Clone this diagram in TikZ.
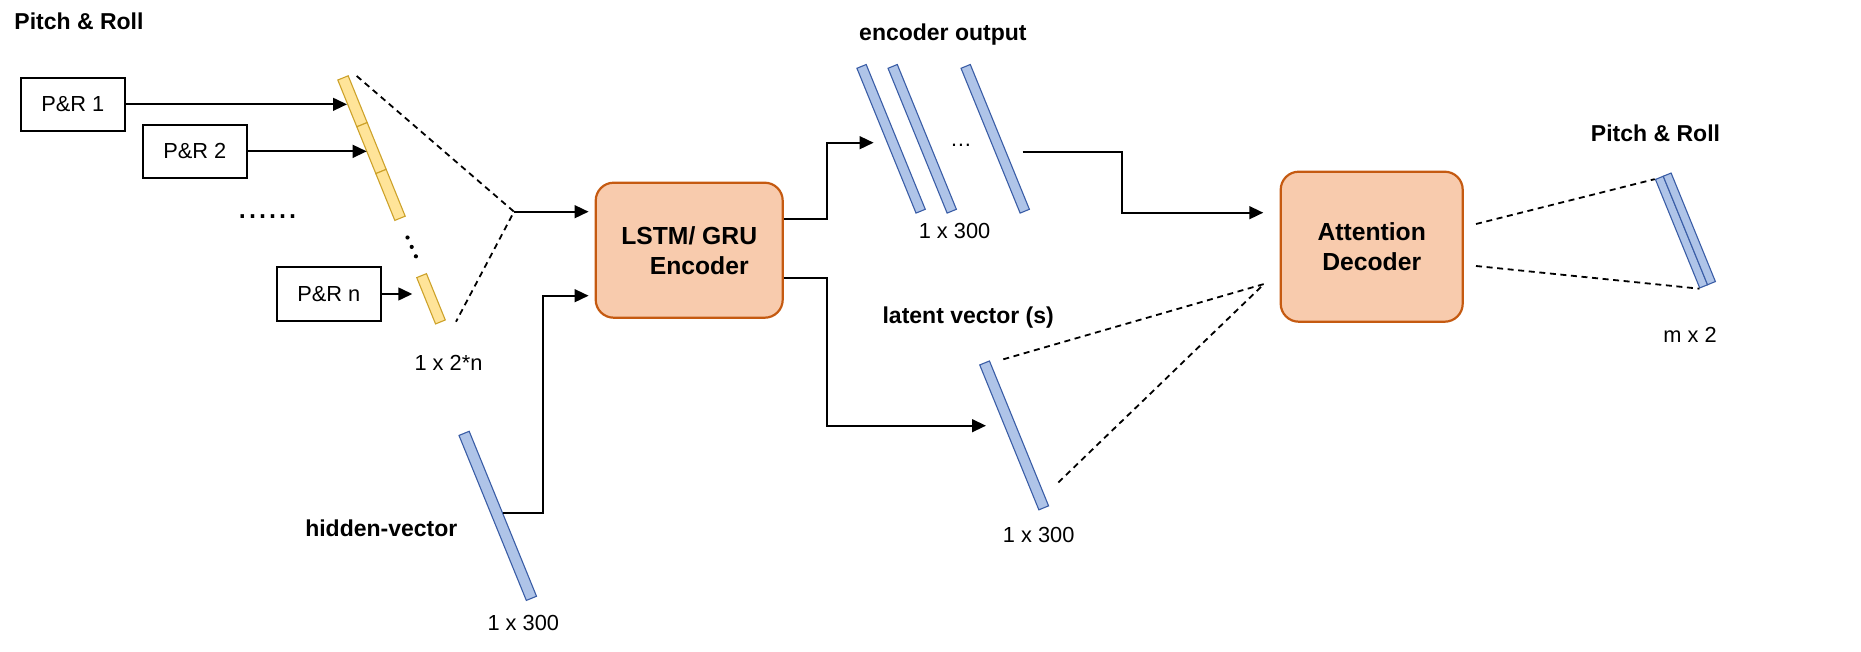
\documentclass[tikz,border=0pt]{standalone}
\usepackage{fontspec}
\setmainfont{Liberation Sans}
\usetikzlibrary{arrows.meta}
\definecolor{corefill}{HTML}{F8CBAD}
\definecolor{coredraw}{HTML}{C55A11}
\definecolor{barfill}{HTML}{AFC4E8}
\definecolor{bardraw}{HTML}{3A5DA6}
\definecolor{yfill}{HTML}{FFE499}
\definecolor{ydraw}{HTML}{CDA22A}
\begin{document}
\begin{tikzpicture}[x=0.5pt,y=-0.5pt,
  lbl/.style={inner sep=0pt,font=\fontsize{10.9}{13}\selectfont},
  blbl/.style={inner sep=0pt,font=\bfseries\fontsize{11.5}{14}\selectfont},
  prbox/.style={draw,line width=1pt,fill=white,minimum width=52.15pt,minimum height=26.65pt,inner sep=0pt,font=\fontsize{10.9}{13}\selectfont},
  core/.style={draw=coredraw,fill=corefill,line width=1.1pt,rounded corners=9pt,align=center,inner sep=0pt,font=\bfseries\fontsize{12.35}{15}\selectfont},
  bbar/.style={draw=bardraw,fill=barfill,line width=0.55pt,inner sep=0pt,minimum width=5pt,rotate=22.2},
  ybar/.style={draw=ydraw,fill=yfill,line width=0.55pt,inner sep=0pt,minimum width=5.6pt,minimum height=25.25pt,rotate=22.1},
  arr/.style={line width=1pt,-{Triangle[length=7pt,width=6.4pt]}},
  dsh/.style={line width=0.9pt,dash pattern=on 3pt off 2.3pt},
  dotrow/.style={inner sep=0pt,anchor=base,font=\fontsize{18}{20}\selectfont}
]
\useasboundingbox (0,0) rectangle (1861,652);

% ---- titles / labels
\node[blbl] (ttl1) at (79,21.5) {Pitch \& Roll};
\node[blbl] (ttl2) at (1655.5,133.3) {Pitch \& Roll};
\node[blbl] (eolbl) at (942.9,35) {encoder output};
\node[blbl] (latlbl) at (968.2,317.3) {latent vector (s)};
\node[blbl] (hidlbl) at (381.3,528.3) {hidden-vector};
\node[lbl] (dimy) at (448.5,363.3) {1 x 2*n};
\node[lbl] (dimh) at (523.3,623.3) {1 x 300};
\node[lbl] (dimeo) at (954.5,231) {1 x 300};
\node[lbl] (diml) at (1038.7,535) {1 x 300};
\node[lbl] (dimo) at (1690,335) {m x 2};

% ---- input boxes
\node[prbox] (pr1) at (72.85,104.35) {P\&R 1};
\node[prbox] (pr2) at (194.85,151.35) {P\&R 2};
\node[prbox] (prn) at (328.85,294) {P\&R n};
\node[dotrow] (hdots) at (267.5,219) {......};
\fill (407.5,237.5) circle (2.1);
\fill (411.7,246.9) circle (2.1);
\fill (415.9,256.3) circle (2.1);

% ---- yellow input vector
\node[ybar] (y1) at (352.5,101.3) {};
\node[ybar] (y2) at (371.5,148.1) {};
\node[ybar] (y3) at (390.5,194.9) {};
\node[ybar,minimum width=5.25pt,minimum height=25pt] (yn) at (431,298.8) {};

% ---- hidden vector
\node[bbar,minimum width=5.5pt,minimum height=89.1pt] (hid) at (497.75,515.85) {};

% ---- encoder / decoder
\node[core,minimum width=93.5pt,minimum height=67.5pt] (enc) at (689.2,250.2) {LSTM/ GRU\\\hspace*{10pt}Encoder};
\node[core,minimum width=91pt,minimum height=75pt] (dec) at (1371.7,246.7) {Attention\\Decoder};

% ---- encoder outputs
\node[bbar,minimum height=78.2pt] (eo1) at (891.1,138.8) {};
\node[bbar,minimum height=78.2pt] (eo2) at (922.2,138.8) {};
\node[bbar,minimum height=78.2pt] (eo3) at (995.2,138.8) {};
\node[lbl,anchor=base] (eodots) at (961,146.5) {\char"2026};

% ---- latent vector
\node[bbar,minimum width=5.25pt,minimum height=78.25pt] (lat) at (1014.15,435.4) {};

% ---- output vector
\node[bbar,minimum width=4.25pt,minimum height=58.6pt] (out1) at (1681.5,232.1) {};
\node[bbar,minimum width=4.25pt,minimum height=58.6pt] (out2) at (1689.3,228.9) {};

% ---- coordinates
\coordinate (pr1tip) at (347,104.35);
\coordinate (pr2tip) at (366.7,151.35);
\coordinate (prntip) at (412.3,294);
\coordinate (ytop) at (356.7,76);
\coordinate (ybot) at (456,321.7);
\coordinate (apex) at (514,211.7);
\coordinate (hidout) at (502.7,513.3);
\coordinate (h1) at (543.3,513.3);
\coordinate (h2) at (543.3,295.7);
\coordinate (e1) at (826.6,219);
\coordinate (eoin) at (873.6,142.7);
\coordinate (e2) at (826.6,277.7);
\coordinate (latin) at (986,425.7);
\coordinate (eoout) at (1022.7,151.7);
\coordinate (d1) at (1121.7,151.7);
\coordinate (decin) at (1263.3,212.7);
\coordinate (lat1) at (1003.3,359.3);
\coordinate (lat2) at (1056.7,484);
\coordinate (latapex) at (1264,284);
\coordinate (do1) at (1476,224);
\coordinate (do2) at (1476,266);

% ---- connectors
\draw[arr] (pr1) -- (pr1tip);
\draw[arr] (pr2) -- (pr2tip);
\draw[arr] (prn) -- (prntip);
\draw[dsh] (ytop) -- (apex) -- (ybot);
\draw[arr,shorten >=3pt] (apex) -- (apex -| enc.west);
\draw[arr,shorten >=3pt] (hidout) -- (h1) -- (h2) -- (h2 -| enc.west);
\draw[arr] (enc.east |- e1) -- (e1) |- (eoin);
\draw[arr] (enc.east |- e2) -- (e2) |- (latin);
\draw[arr] (eoout) -- (d1) |- (decin);
\draw[dsh] (lat1) -- (latapex) -- (lat2);
\draw[dsh] (do1) -- (out1.north west);
\draw[dsh] (do2) -- (out1.south west);
\end{tikzpicture}
\end{document}
